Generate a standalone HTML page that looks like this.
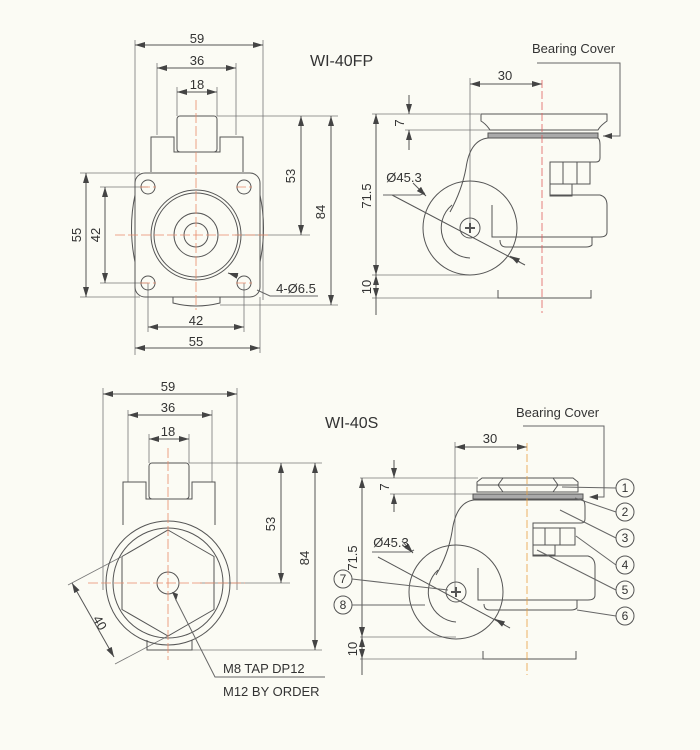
<!DOCTYPE html>
<html><head><meta charset="utf-8"><style>
html,body{margin:0;padding:0;background:#fbfbf4;}
svg{display:block}
text{font-family:"Liberation Sans","DejaVu Sans",sans-serif;fill:#333;}
</style></head><body>
<svg width="700" height="750" viewBox="0 0 700 750" xmlns="http://www.w3.org/2000/svg">
<defs>
<marker id="a" viewBox="0 0 10 6" refX="10" refY="3" markerWidth="10" markerHeight="6" orient="auto-start-reverse" markerUnits="userSpaceOnUse"><path d="M0,0 L10,3 L0,6z" fill="#444"/></marker>
</defs>
<rect width="700" height="750" fill="#fbfbf4"/>
<g stroke="#555" stroke-width="1" fill="none">
<!-- ===== TOP LEFT ===== -->
<g stroke="#777" stroke-width="0.8">
<line x1="135" y1="40" x2="135" y2="355"/><line x1="263" y1="40" x2="263" y2="300"/>
<line x1="157" y1="63" x2="157" y2="135"/><line x1="236" y1="63" x2="236" y2="135"/>
<line x1="177" y1="87" x2="177" y2="116"/><line x1="217" y1="87" x2="217" y2="116"/>
<line x1="217" y1="116" x2="338" y2="116"/><line x1="235" y1="235" x2="310" y2="235"/><line x1="220" y1="305" x2="338" y2="305"/>
<line x1="80" y1="173" x2="140" y2="173"/><line x1="80" y1="297" x2="140" y2="297"/>
<line x1="100" y1="187" x2="148" y2="187"/><line x1="100" y1="283" x2="148" y2="283"/>
<line x1="148" y1="283" x2="148" y2="332"/><line x1="244" y1="283" x2="244" y2="332"/><line x1="260" y1="297" x2="260" y2="353"/>
</g>
<line x1="135" y1="45" x2="263" y2="45" marker-start="url(#a)" marker-end="url(#a)"/>
<line x1="157" y1="68" x2="236" y2="68" marker-start="url(#a)" marker-end="url(#a)"/>
<line x1="177" y1="92" x2="217" y2="92" marker-start="url(#a)" marker-end="url(#a)"/>
<line x1="301" y1="116" x2="301" y2="235" marker-start="url(#a)" marker-end="url(#a)"/>
<line x1="331" y1="116" x2="331" y2="305" marker-start="url(#a)" marker-end="url(#a)"/>
<line x1="86" y1="173" x2="86" y2="297" marker-start="url(#a)" marker-end="url(#a)"/>
<line x1="105" y1="187" x2="105" y2="283" marker-start="url(#a)" marker-end="url(#a)"/>
<line x1="148" y1="327" x2="244" y2="327" marker-start="url(#a)" marker-end="url(#a)"/>
<line x1="135" y1="348" x2="260" y2="348" marker-start="url(#a)" marker-end="url(#a)"/>
<rect x="177" y="116" width="40" height="36" rx="3"/>
<path d="M151,172 V137 H174 V152 H220 V137 H243 V172"/>
<path d="M135,195 Q128,228 135,262 M260,195 Q267,228 260,262"/>
<rect x="135" y="173" width="125" height="124" rx="10"/>
<path d="M173,297 V303 Q196,309 220,303 V297"/>
<circle cx="196" cy="235" r="45"/><circle cx="196" cy="235" r="42"/>
<circle cx="196" cy="235" r="22"/><circle cx="196" cy="235" r="12"/>
<circle cx="148" cy="187" r="7"/><circle cx="244" cy="187" r="7"/><circle cx="148" cy="283" r="7"/><circle cx="244" cy="283" r="7"/>
<path d="M257,290 L270,296 H318" stroke="#666"/>
<line x1="238" y1="276" x2="228" y2="273" marker-end="url(#a)"/>
<g stroke="#e88a6a" stroke-dasharray="10,3" stroke-width="0.8">
<line x1="196" y1="100" x2="196" y2="310"/><line x1="115" y1="235" x2="270" y2="235"/>
<line x1="140" y1="283" x2="156" y2="283"/><line x1="236" y1="283" x2="252" y2="283"/><line x1="140" y1="187" x2="156" y2="187"/><line x1="236" y1="187" x2="252" y2="187"/>
</g>

<!-- ===== TOP RIGHT ===== -->
<g stroke="#777" stroke-width="0.8">
<line x1="470" y1="78" x2="470" y2="228"/>
<line x1="372" y1="114" x2="480" y2="114"/><line x1="405" y1="130" x2="490" y2="130"/>
<line x1="372" y1="275" x2="470" y2="275"/><line x1="372" y1="298" x2="498" y2="298"/>
</g>
<line x1="470" y1="84" x2="542" y2="84" marker-start="url(#a)" marker-end="url(#a)"/>
<line x1="409" y1="95" x2="409" y2="114" marker-end="url(#a)"/>
<line x1="409" y1="150" x2="409" y2="130" marker-end="url(#a)"/>
<line x1="376" y1="114" x2="376" y2="275" marker-start="url(#a)" marker-end="url(#a)"/>
<line x1="376" y1="275" x2="376" y2="298" marker-start="url(#a)" marker-end="url(#a)"/>
<line x1="376" y1="298" x2="376" y2="315"/>
<path d="M537,63 H620 V136 H603" stroke="#666"/><path d="M612,133 L603,136 L612,139" fill="#444" stroke="none"/>
<path d="M481,114 H607 V121 Q600,126 598,130 H490 Q486,124 481,121Z"/>
<rect x="488" y="133" width="110" height="5" fill="#aaa"/>
<path d="M466,168 Q470,140 488,138 H597 Q600,138 600,145 V158 Q600,162 596,162 H550 V195 H600 Q607,197 607,205 V232 Q607,237 600,237 H500"/>
<rect x="550" y="162" width="40" height="22"/><line x1="563" y1="162" x2="563" y2="184"/><line x1="577" y1="162" x2="577" y2="184"/>
<rect x="550" y="184" width="22" height="12"/>
<path d="M492,205 V237 H592 V245 Q590,247 586,247 H506 Q500,247 500,240"/>
<path d="M466,168 Q462,190 450,212"/>
<circle cx="470" cy="228" r="47"/>
<path d="M470,258 A30,30 0 0 1 452,205"/>
<circle cx="470" cy="228" r="10"/>
<path d="M465,228 H475 M470,223 V233" stroke-width="2"/>
<path d="M498,290 V298 H591 V290"/>
<line x1="392" y1="195" x2="525" y2="265"/>
<path d="M383,195 H420 L425,193" stroke="#666"/>
<line x1="413" y1="183" x2="426" y2="196" marker-end="url(#a)"/>
<line x1="520" y1="262" x2="510" y2="256" marker-end="url(#a)"/>
<line x1="542" y1="80" x2="542" y2="313" stroke="#e06060" stroke-dasharray="8,3" stroke-width="0.8"/>

<!-- ===== BOTTOM LEFT ===== -->
<g stroke="#777" stroke-width="0.8">
<line x1="103" y1="388" x2="103" y2="590"/><line x1="237" y1="388" x2="237" y2="590"/>
<line x1="128" y1="410" x2="128" y2="482"/><line x1="212" y1="410" x2="212" y2="482"/>
<line x1="149" y1="434" x2="149" y2="463"/><line x1="189" y1="434" x2="189" y2="463"/>
<line x1="189" y1="463" x2="322" y2="463"/><line x1="200" y1="583" x2="290" y2="583"/><line x1="192" y1="650" x2="322" y2="650"/>
<line x1="121" y1="557" x2="68" y2="585"/><line x1="168" y1="636" x2="115" y2="664"/>
</g>
<line x1="103" y1="394" x2="237" y2="394" marker-start="url(#a)" marker-end="url(#a)"/>
<line x1="128" y1="415" x2="212" y2="415" marker-start="url(#a)" marker-end="url(#a)"/>
<line x1="149" y1="439" x2="189" y2="439" marker-start="url(#a)" marker-end="url(#a)"/>
<line x1="281" y1="463" x2="281" y2="583" marker-start="url(#a)" marker-end="url(#a)"/>
<line x1="315" y1="463" x2="315" y2="650" marker-start="url(#a)" marker-end="url(#a)"/>
<line x1="72" y1="583" x2="114" y2="657" marker-start="url(#a)" marker-end="url(#a)"/>
<rect x="149" y="463" width="40" height="36" rx="3"/>
<path d="M123,525 V482 H146 V499 H192 V482 H215 V525"/>
<path d="M147,640 V650 H192 V640"/>
<circle cx="168" cy="583" r="62"/><circle cx="168" cy="583" r="55"/>
<polygon points="168,530 214,556.5 214,609.5 168,636 122,609.5 122,556.5"/>
<circle cx="168" cy="583" r="11"/>
<path d="M176,600 L215,677 H325" stroke="#666"/>
<line x1="190" y1="645" x2="176" y2="598" stroke="none"/>
<path d="M172,592 L176,601 L178,594Z" fill="#444" stroke="none"/>
<g stroke="#e88a6a" stroke-dasharray="10,3" stroke-width="0.8">
<line x1="168" y1="448" x2="168" y2="660"/><line x1="88" y1="583" x2="245" y2="583"/>
</g>

<!-- ===== BOTTOM RIGHT ===== -->
<g stroke="#777" stroke-width="0.8">
<line x1="455" y1="442" x2="455" y2="592"/>
<line x1="360" y1="478" x2="478" y2="478"/><line x1="390" y1="494" x2="475" y2="494"/>
<line x1="360" y1="637" x2="456" y2="637"/><line x1="360" y1="659" x2="483" y2="659"/>
</g>
<line x1="455" y1="447" x2="527" y2="447" marker-start="url(#a)" marker-end="url(#a)"/>
<line x1="394" y1="460" x2="394" y2="478" marker-end="url(#a)"/>
<line x1="394" y1="512" x2="394" y2="494" marker-end="url(#a)"/>
<line x1="362" y1="478" x2="362" y2="637" marker-start="url(#a)" marker-end="url(#a)"/>
<line x1="362" y1="637" x2="362" y2="659" marker-start="url(#a)" marker-end="url(#a)"/>
<line x1="362" y1="659" x2="362" y2="675"/>
<path d="M523,426 H604 V497 H590" stroke="#666"/><path d="M598,494 L589,497 L598,500" fill="#444" stroke="none"/>
<path d="M477,482 L482,478 H573 L578,482 V492 H477Z"/>
<line x1="503" y1="478" x2="498" y2="485"/><line x1="498" y1="485" x2="503" y2="492"/>
<line x1="553" y1="478" x2="558" y2="485"/><line x1="558" y1="485" x2="553" y2="492"/>
<line x1="477" y1="485" x2="578" y2="485"/>
<rect x="473" y="494" width="110" height="5" fill="#aaa"/>
<path d="M452,532 Q456,502 474,500 H582 Q585,500 585,507 V519 Q585,523 581,523 H533 V556 H588 Q595,558 595,566 V595 Q595,600 588,600 H483"/>
<rect x="533" y="528" width="42" height="17"/><line x1="545" y1="528" x2="545" y2="545"/><line x1="560" y1="528" x2="560" y2="545"/>
<rect x="533" y="545" width="22" height="10"/>
<path d="M478,568 V600 H577 V608 Q575,610 571,610 H490 Q484,610 484,604"/>
<path d="M452,532 Q448,555 436,575"/>
<circle cx="456" cy="592" r="47"/>
<path d="M456,622 A30,30 0 0 1 438,570"/>
<circle cx="456" cy="592" r="10"/>
<path d="M451,592 H461 M456,587 V597" stroke-width="2"/>
<path d="M483,651 V659 H576 V651"/>
<line x1="378" y1="557" x2="510" y2="628"/>
<path d="M372,552 H410 L414,550" stroke="#666"/>
<line x1="402" y1="541" x2="413" y2="553" marker-end="url(#a)"/>
<line x1="505" y1="625" x2="495" y2="619" marker-end="url(#a)"/>
<line x1="527" y1="443" x2="527" y2="675" stroke="#e8a040" stroke-dasharray="8,3" stroke-width="0.8"/>
<g stroke="#666">
<line x1="562" y1="487" x2="616" y2="488"/><line x1="575" y1="498" x2="616" y2="512"/>
<line x1="560" y1="510" x2="616" y2="538"/><line x1="576" y1="536" x2="616" y2="565"/>
<line x1="537" y1="550" x2="616" y2="590"/><line x1="577" y1="610" x2="616" y2="616"/>
<line x1="352" y1="579" x2="448" y2="590"/><line x1="352" y1="605" x2="425" y2="605"/>
</g>
<circle cx="625" cy="488" r="9"/><circle cx="625" cy="512" r="9"/><circle cx="625" cy="538" r="9"/>
<circle cx="625" cy="565" r="9"/><circle cx="625" cy="590" r="9"/><circle cx="625" cy="616" r="9"/>
<circle cx="343" cy="579" r="9"/><circle cx="343" cy="605" r="9"/>
</g>

<!-- ===== TEXT ===== -->
<g font-size="13" text-anchor="middle">
<text x="197" y="43">59</text><text x="197" y="65">36</text><text x="197" y="89">18</text>
<text x="196" y="325">42</text><text x="196" y="346">55</text>
<text transform="translate(295,176) rotate(-90)">53</text>
<text transform="translate(325,212) rotate(-90)">84</text>
<text transform="translate(81,235) rotate(-90)">55</text>
<text transform="translate(100,235) rotate(-90)">42</text>
<text x="296" y="293">4-Ø6.5</text>
<text x="505" y="80">30</text>
<text transform="translate(404,123) rotate(-90)">7</text>
<text transform="translate(371,196) rotate(-90)">71.5</text>
<text transform="translate(371,287) rotate(-90)">10</text>
<text x="404" y="182" >Ø45.3</text>

<text x="168" y="391">59</text><text x="168" y="412">36</text><text x="168" y="436">18</text>
<text transform="translate(275,524) rotate(-90)">53</text>
<text transform="translate(309,558) rotate(-90)">84</text>
<text transform="translate(96,625) rotate(60)">40</text>
<text x="490" y="443">30</text>
<text transform="translate(389,487) rotate(-90)">7</text>
<text transform="translate(357,558) rotate(-90)">71.5</text>
<text transform="translate(357,649) rotate(-90)">10</text>
<text x="391" y="547">Ø45.3</text>
</g>
<g font-size="12" text-anchor="middle">
<text x="625" y="492">1</text><text x="625" y="516">2</text><text x="625" y="542">3</text>
<text x="625" y="569">4</text><text x="625" y="594">5</text><text x="625" y="620">6</text>
<text x="343" y="583">7</text><text x="343" y="609">8</text>
</g>
<text x="532" y="53" font-size="13">Bearing Cover</text>
<text x="516" y="417" font-size="13">Bearing Cover</text>
<text x="310" y="66" font-size="16" fill="#111">WI-40FP</text>
<text x="325" y="428" font-size="16" fill="#111">WI-40S</text>
<text x="223" y="673" font-size="13">M8 TAP DP12</text>
<text x="223" y="696" font-size="13">M12 BY ORDER</text>
</svg>
</body></html>
